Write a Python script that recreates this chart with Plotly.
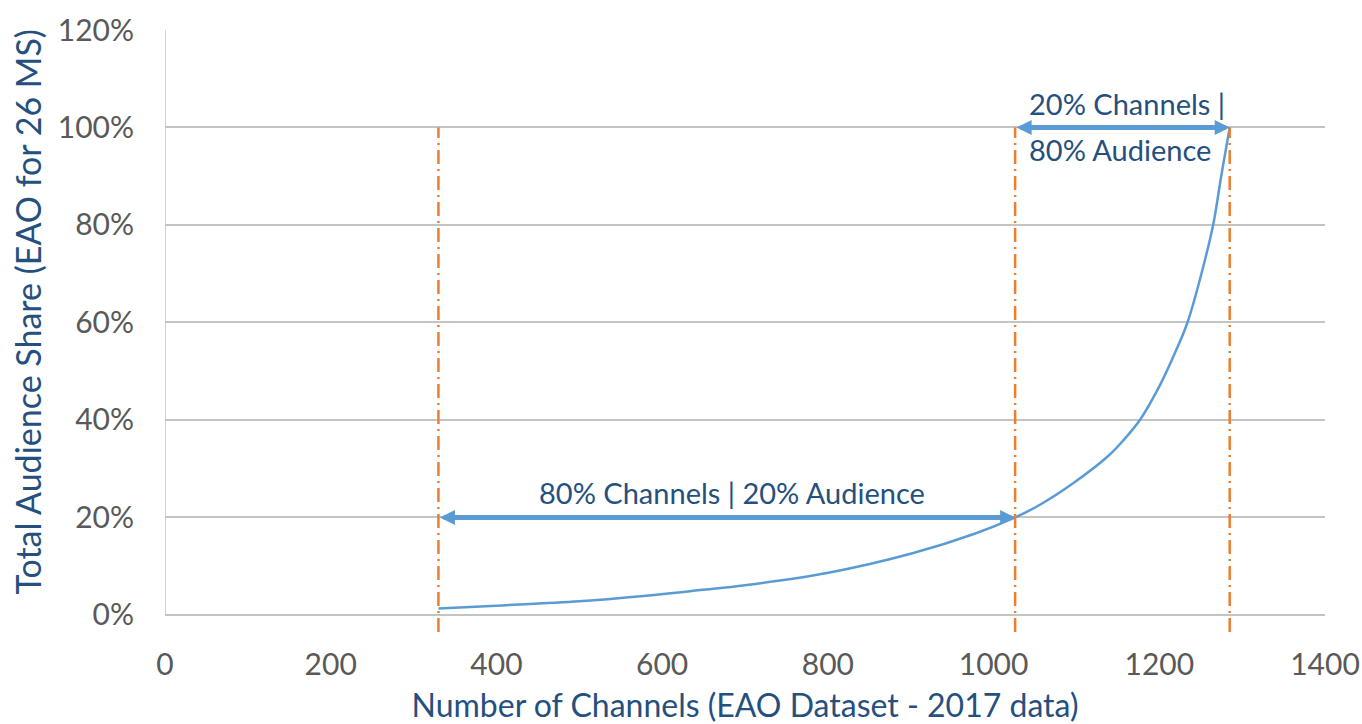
import plotly.graph_objects as go

# ---- data ----
channels = [330, 400, 500, 584, 646, 700, 799, 901, 978, 1026, 1056, 1096,
            1139, 1157, 1177, 1201, 1217, 1234, 1251, 1265, 1275, 1285]
audience_share = [1.3, 1.9, 2.8, 4.0, 5.1, 6.1, 8.6, 12.6, 16.7, 20.0, 22.6,
                  27.0, 32.7, 35.9, 40.1, 47.2, 53.0, 60.0, 70.1, 80.0, 90.3,
                  100.0]

marker_channels = [330, 1026, 1285]      # vertical dash-dot markers
low_share, top_share = 20, 100           # arrow levels

x_ticks = [0, 200, 400, 600, 800, 1000, 1200, 1400]
y_ticks = [0, 20, 40, 60, 80, 100, 120]

x_title = "Number of Channels (EAO Dataset - 2017 data)"
y_title = "Total Audience Share (EAO for 26 MS)"
label_low = "80% Channels | 20% Audience"
label_high_1 = "20% Channels |"
label_high_2 = "80% Audience"

X_MIN, X_MAX = 0, 1400
Y_MIN, Y_MAX = -3.5, 120

FONT = "Lato"
TITLE_COLOR = "#25507E"
TICK_COLOR = "#595959"
GRID_COLOR = "#C4C4C4"
CURVE_COLOR = "#5B9BD5"
MARK_COLOR = "#ED7D31"

fig = go.Figure()

fig.add_trace(go.Scatter(
    x=channels, y=audience_share, mode="lines",
    line=dict(color=CURVE_COLOR, width=2.5, shape="spline", smoothing=1.0),
    hoverinfo="skip", showlegend=False,
))

shapes = []
# left axis line (0% .. 120%)
shapes.append(dict(type="line", xref="x", yref="y", x0=X_MIN, x1=X_MIN,
                   y0=0, y1=Y_MAX, line=dict(color=GRID_COLOR, width=1.5),
                   layer="below"))
for c in marker_channels:
    shapes.append(dict(type="line", xref="x", yref="y", x0=c, x1=c,
                       y0=Y_MIN, y1=top_share,
                       line=dict(color=MARK_COLOR, width=2.5,
                                 dash="14px,5px,2px,5px")))

ANN_FONT = dict(family=FONT, size=29, color=TITLE_COLOR)
annotations = [
    # double-headed arrows
    dict(x=marker_channels[1], y=low_share, ax=marker_channels[0], ay=low_share,
         xref="x", yref="y", axref="x", ayref="y", text="", showarrow=True,
         arrowhead=2, startarrowhead=2, arrowside="end+start",
         arrowwidth=5, arrowsize=0.6, startarrowsize=0.6,
         arrowcolor=CURVE_COLOR, standoff=0, startstandoff=0),
    dict(x=marker_channels[2], y=top_share, ax=marker_channels[1], ay=top_share,
         xref="x", yref="y", axref="x", ayref="y", text="", showarrow=True,
         arrowhead=2, startarrowhead=2, arrowside="end+start",
         arrowwidth=5, arrowsize=0.6, startarrowsize=0.6,
         arrowcolor=CURVE_COLOR, standoff=0, startstandoff=0),
    # labels
    dict(x=684, y=25.2, xref="x", yref="y", text=label_low, showarrow=False,
         font=ANN_FONT, xanchor="center", yanchor="middle"),
    dict(x=1040, y=105, xref="x", yref="y", text=label_high_1, showarrow=False,
         font=ANN_FONT, xanchor="left", yanchor="middle"),
    dict(x=1040, y=95.4, xref="x", yref="y", text=label_high_2, showarrow=False,
         font=ANN_FONT, xanchor="left", yanchor="middle"),
    # y-axis title
    dict(x=-0.1185, y=0.5316, xref="paper", yref="paper", text=y_title,
         showarrow=False, textangle=-90,
         font=dict(family=FONT, size=34, color=TITLE_COLOR),
         xanchor="center", yanchor="middle"),
]

fig.update_layout(
    width=1362, height=724,
    margin=dict(l=165, r=37, t=30, b=92),
    paper_bgcolor="white", plot_bgcolor="white",
    font=dict(family=FONT, size=30, color=TICK_COLOR),
    shapes=shapes, annotations=annotations,
    showlegend=False,
)

fig.update_xaxes(
    range=[X_MIN, X_MAX], tickvals=x_ticks, ticktext=[str(v) for v in x_ticks],
    showgrid=False, zeroline=False, showline=False, automargin=False,
    tickfont=dict(family=FONT, size=30, color=TICK_COLOR),
    ticklabelstandoff=12,
    title=dict(text=x_title, standoff=20,
               font=dict(family=FONT, size=32, color=TITLE_COLOR)),
)
fig.update_yaxes(
    range=[Y_MIN, Y_MAX], tickvals=y_ticks,
    ticktext=[f"{v}%" for v in y_ticks],
    showgrid=True, gridcolor=GRID_COLOR, gridwidth=1.5,
    zeroline=False, showline=False, automargin=False,
    tickfont=dict(family=FONT, size=30, color=TICK_COLOR),
    ticklabelstandoff=30,
)

fig.write_html("out.html")
